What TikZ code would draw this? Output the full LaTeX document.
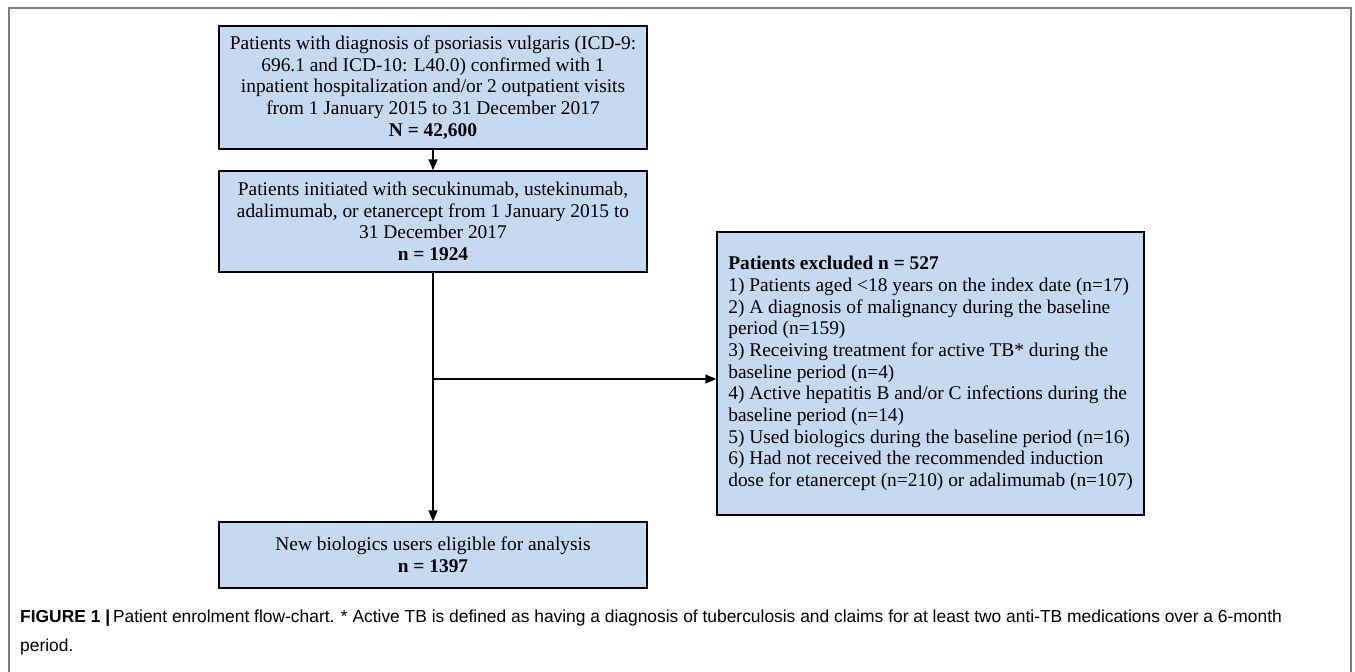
\documentclass[tikz,border=0pt]{standalone}
\usepackage{fontspec}
\setmainfont{Liberation Serif}
\newfontfamily\capfont{Liberation Sans}
\usetikzlibrary{arrows.meta}
\definecolor{boxblue}{HTML}{C5D9F1}
\tikzset{
  flowbox/.style={draw=black, fill=boxblue, line width=1.4pt, inner sep=0pt,
    font=\fontsize{19.4}{21.7}\selectfont},
  link/.style={line width=1.4pt, -{Triangle[length=11pt,width=9pt]}}
}
\begin{document}
\begin{tikzpicture}[x=1pt,y=-1pt]
\useasboundingbox (0,0) rectangle (1355,672);
% outer frame
\draw[gray, line width=1.2pt] (9,672)--(9,8)--(1351,8)--(1351,672);
% main column
\node[flowbox, align=center, minimum width=428pt, minimum height=123pt] (cohort) at (433,87.5)
  {Patients with diagnosis of psoriasis vulgaris (ICD-9:\\ 696.1 and ICD-10: L40.0) confirmed with 1\\
   inpatient hospitalization and/or 2 outpatient visits\\ from 1 January 2015 to 31 December 2017\\
   \textbf{N = 42,600}};
\node[flowbox, align=center, minimum width=428pt, minimum height=101pt] (initiated) at (433,221.5)
  {Patients initiated with secukinumab, ustekinumab,\\ adalimumab, or etanercept from 1 January 2015 to\\
   31 December 2017\\ \textbf{n = 1924}};
\node[flowbox, align=center, minimum width=428pt, minimum height=66pt] (eligible) at (433,555)
  {New biologics users eligible for analysis\\ \textbf{n = 1397}};
% exclusions
\node[flowbox, align=left, minimum width=427pt, minimum height=283pt] (excluded) at (930.5,373.5)
  {\textbf{Patients excluded n = 527}\\
   1) Patients aged <18 years on the index date (n=17)\\
   2) A diagnosis of malignancy during the baseline\\ period (n=159)\\
   3) Receiving treatment for active TB* during the\\ baseline period (n=4)\\
   4) Active hepatitis B and/or C infections during the\\ baseline period (n=14)\\
   5) Used biologics during the baseline period (n=16)\\
   6) Had not received the recommended induction\\ dose for etanercept (n=210) or adalimumab (n=107)};
\coordinate (split) at (433,379);
\draw[link] (cohort) -- (initiated);
\draw[link] (initiated) -- (eligible);
\draw[link] (split) -- (split -| excluded.west);
% caption
\node[anchor=north west, align=left, inner sep=0pt, font=\capfont\fontsize{17.4}{29}\selectfont] (caption) at (20,610)
  {\textbf{FIGURE 1 |}\,Patient enrolment flow-chart. * Active TB is defined as having a diagnosis of tuberculosis and claims for at least two anti-TB medications over a 6-month\\ period.};
\end{tikzpicture}
\end{document}
